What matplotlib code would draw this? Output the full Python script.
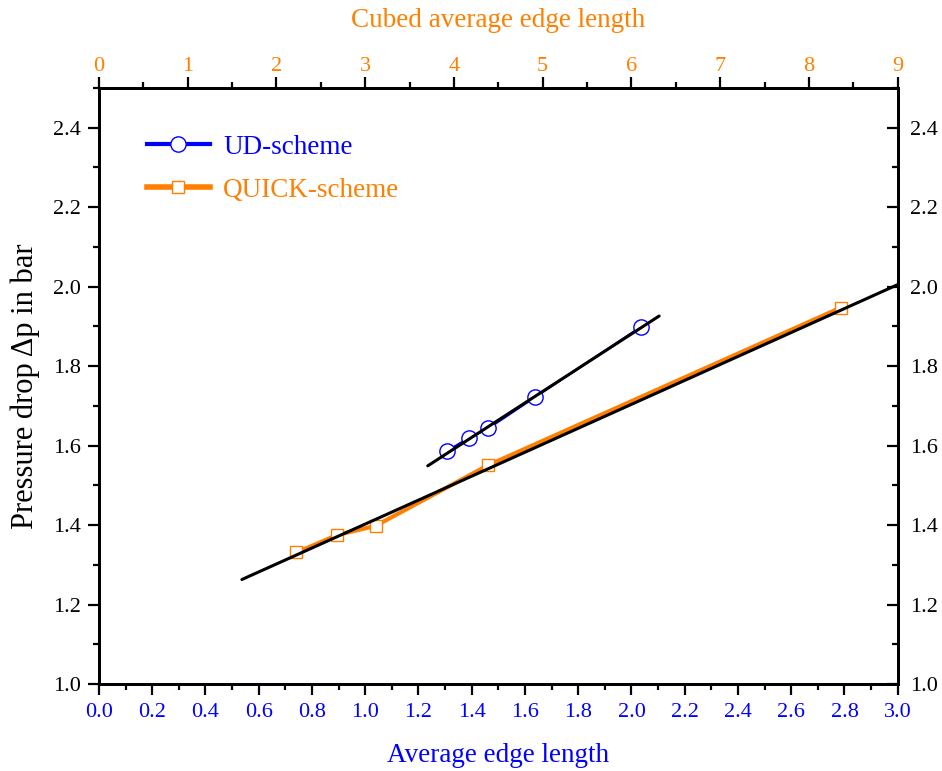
import matplotlib
matplotlib.use("Agg")
import matplotlib.pyplot as plt
from matplotlib.ticker import MultipleLocator

plt.rcParams["font.family"] = ["Liberation Serif", "DejaVu Serif"]

BLUE = "#0000FF"
ORANGE = "#FF8000"

# UD-scheme data (average edge length, pressure drop)
ud_x = [1.306, 1.389, 1.462, 1.636, 2.034]
ud_y = [1.586, 1.619, 1.643, 1.721, 1.898]
ud_fit_x = [1.235, 2.104]
ud_fit_y = [1.549, 1.926]

# QUICK-scheme data
quick_x = [0.742, 0.895, 1.039, 1.460, 2.786]
quick_y = [1.331, 1.375, 1.398, 1.550, 1.947]
quick_fit_x = [0.537, 3.0]
quick_fit_y = [1.263, 2.005]

fig = plt.figure(figsize=(9.42, 7.71), dpi=100)
ax = fig.add_axes([0.105, 0.1128, 0.848, 0.7732])

ax.plot(ud_x, ud_y, color=BLUE, lw=1.6, marker="o", ms=11, mfc="white",
        mec=BLUE, mew=1.0, label="UD-scheme", zorder=3)
ax.plot(quick_x, quick_y, color=ORANGE, lw=3.0, marker="s", ms=8.5, mfc="white",
        mec=ORANGE, mew=1.0, label="QUICK-scheme", zorder=3)
ax.plot(ud_fit_x, ud_fit_y, color="black", lw=2.2, zorder=4, solid_capstyle="round")
ax.plot(quick_fit_x, quick_fit_y, color="black", lw=2.2, zorder=4, solid_capstyle="round")

ax.set_xlim(0, 3.0)
ax.set_ylim(1.0, 2.5)
ax.xaxis.set_major_locator(MultipleLocator(0.2))
ax.xaxis.set_minor_locator(MultipleLocator(0.1))
ax.yaxis.set_major_locator(MultipleLocator(0.2))
ax.yaxis.set_minor_locator(MultipleLocator(0.1))
ax.set_xticklabels([f"{v:.1f}" for v in ax.get_xticks()])
ax.tick_params(axis="x", labelcolor=BLUE, labelsize=16, pad=5.5)
ax.tick_params(axis="y", labelsize=16, pad=5)
ax.tick_params(which="major", direction="out", length=8, width=1.6)
ax.tick_params(which="minor", direction="out", length=4, width=1.6)
for s in ax.spines.values():
    s.set_linewidth(2)

ax.set_xlabel("Average edge length", color=BLUE, fontsize=19.5, labelpad=15)
ax.set_ylabel("Pressure drop \u0394p in bar", fontsize=22, labelpad=9)

# right-hand axis: same scale, ticks pointing inward
right = ax.twinx()
right.set_ylim(1.0, 2.5)
right.yaxis.set_major_locator(MultipleLocator(0.2))
right.yaxis.set_minor_locator(MultipleLocator(0.1))
right.tick_params(axis="y", labelsize=16, pad=9)
right.tick_params(which="major", direction="in", length=8, width=1.6)
right.tick_params(which="minor", direction="in", length=4, width=1.6)
for s in right.spines.values():
    s.set_linewidth(2)

top = ax.twiny()
top.set_xlim(0, 9)
top.xaxis.set_major_locator(MultipleLocator(1))
top.xaxis.set_minor_locator(MultipleLocator(0.5))
top.tick_params(axis="x", labelcolor=ORANGE, labelsize=16, pad=0.5)
top.tick_params(which="major", direction="out", length=8, width=1.6)
top.tick_params(which="minor", direction="out", length=4, width=1.6)
for s in top.spines.values():
    s.set_linewidth(2)
top.set_xlabel("Cubed average edge length", color=ORANGE, fontsize=19.5, labelpad=22)

leg = ax.legend(loc="upper left", bbox_to_anchor=(0.03, 0.962), frameon=False,
                fontsize=19.5, handlelength=2.3, handletextpad=0.5, labelspacing=0.65)
for txt, c in zip(leg.get_texts(), [BLUE, ORANGE]):
    txt.set_color(c)
leg.get_lines()[0].set_linewidth(3)
leg.get_lines()[1].set_linewidth(4)

fig.savefig("out.png", dpi=100)
